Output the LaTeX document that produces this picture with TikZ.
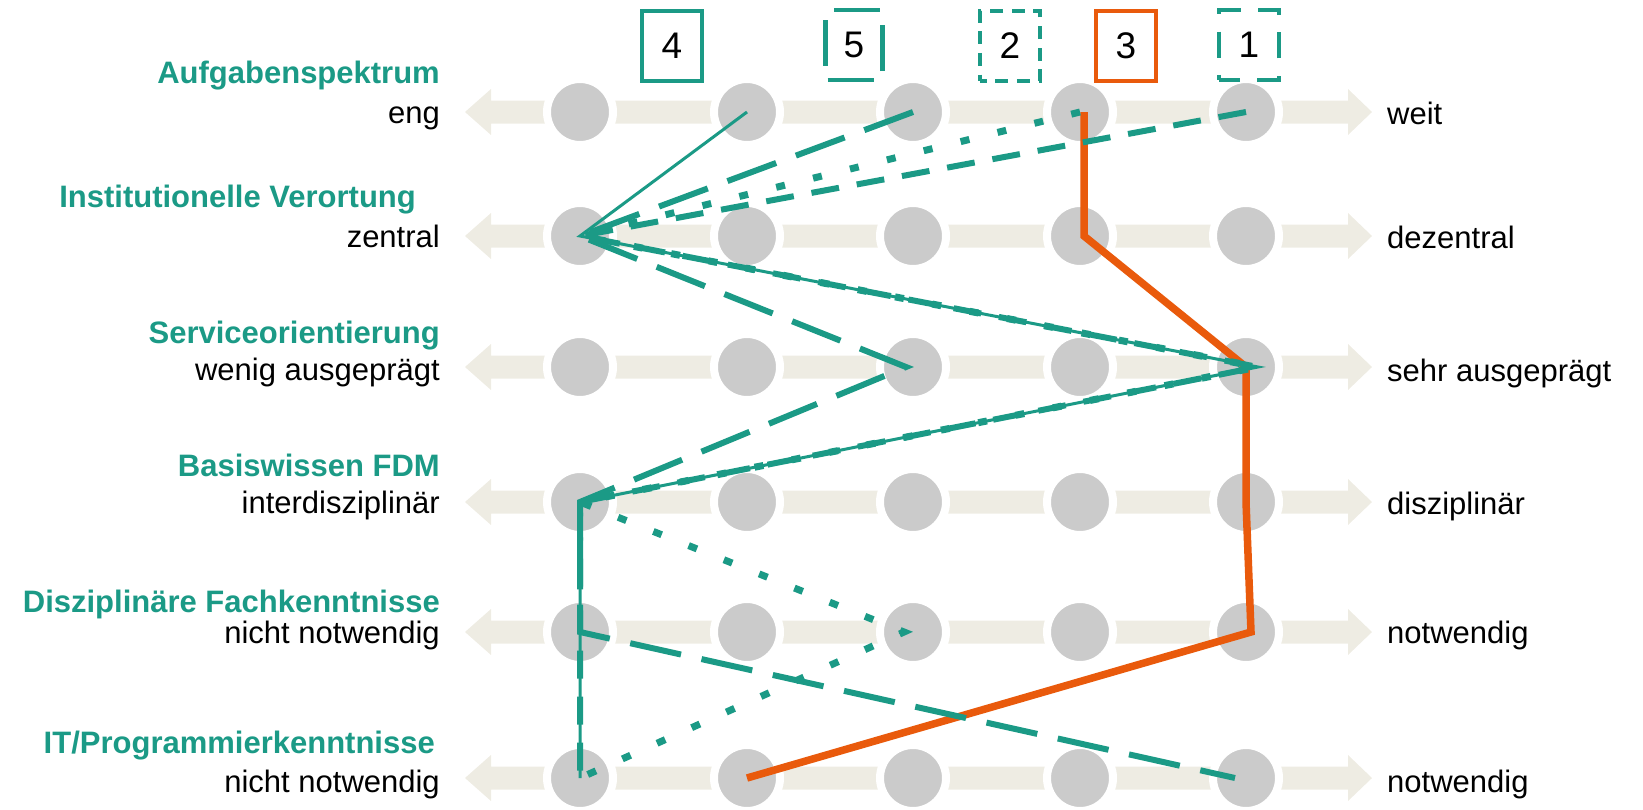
\documentclass[tikz,border=0pt]{standalone}
\usepackage{fontspec}
\setmainfont{Liberation Sans}

\definecolor{fdmteal}{HTML}{1B9A86}
\definecolor{fdmorange}{HTML}{E95A0C}
\definecolor{dotgray}{HTML}{CBCBCB}
\definecolor{bandbeige}{HTML}{EEECE3}

\begin{document}
\begin{tikzpicture}[%
        x=1pt, y=-1pt,
        mydot/.style={shape=circle, fill=dotgray, draw=white, line width=8pt,
            minimum size=66pt, inner sep=0pt},
        heading/.style={anchor=base east, inner sep=0pt, text=fdmteal,
            font=\fontsize{31}{37}\selectfont\bfseries},
        lowval/.style={anchor=base east, inner sep=0pt,
            font=\fontsize{31}{37}\selectfont},
        highval/.style={anchor=base west, inner sep=0pt,
            font=\fontsize{31}{37}\selectfont},
        legbox/.style={shape=rectangle, line width=4.5pt, minimum width=60pt,
            minimum height=70pt, inner sep=0pt, font=\fontsize{37}{44}\selectfont},
        prof1/.style={draw=fdmteal, line width=6pt, dash pattern=on 28pt off 18pt},
        prof2/.style={draw=fdmteal, line width=7pt, dash pattern=on 9pt off 29pt},
        prof3/.style={draw=fdmorange, line width=7.5pt},
        prof4/.style={draw=fdmteal, line width=3pt},
        prof5/.style={draw=fdmteal, line width=6pt, dash pattern=on 52pt off 21pt}
    ]
    \useasboundingbox (0,0) rectangle (1643,809);

    % scale bands
    \foreach \y in {112,236,367,502,632,778}
        \fill[bandbeige] (465,\y) -- (491,\y-23) -- (491,\y-11.5) -- (1348,\y-11.5)
            -- (1348,\y-23) -- (1372,\y) -- (1348,\y+23) -- (1348,\y+11.5)
            -- (491,\y+11.5) -- (491,\y+23) -- cycle;

    % points on the scales
    \foreach \r/\y in {1/112,2/236,3/367,4/502,5/632,6/778}
        \foreach \c/\x in {1/580,2/747,3/913,4/1080,5/1246}
            \node[mydot] (p\r\c) at (\x,\y) {};

    % labels
    \node[heading] (h1) at (440,83)  {Aufgabenspektrum};
    \node[lowval]  (l1) at (440,123) {eng};
    \node[highval] (r1) at (1387,124) {weit};

    \node[heading] (h2) at (416,207) {Institutionelle Verortung};
    \node[lowval]  (l2) at (440,247) {zentral};
    \node[highval] (r2) at (1387,248) {dezentral};

    \node[heading] (h3) at (440,343) {Serviceorientierung};
    \node[lowval]  (l3) at (440,380) {wenig ausgeprägt};
    \node[highval] (r3) at (1387,381) {sehr ausgeprägt};

    \node[heading] (h4) at (440,476) {Basiswissen FDM};
    \node[lowval]  (l4) at (440,513) {interdisziplinär};
    \node[highval] (r4) at (1387,514) {disziplinär};

    \node[heading] (h5) at (440,612) {Disziplinäre Fachkenntnisse};
    \node[lowval]  (l5) at (440,643) {nicht notwendig};
    \node[highval] (r5) at (1387,643) {notwendig};

    \node[heading] (h6) at (435,753) {IT/Programmierkenntnisse};
    \node[lowval]  (l6) at (440,792) {nicht notwendig};
    \node[highval] (r6) at (1387,792) {notwendig};

    % profiles
    \draw[prof3] ([xshift=4pt]p14.center) -- ([xshift=4pt]p24.center) -- (p35.center)
        -- (p45.center) -- ([xshift=5pt]p55.center) -- (p62.center);
    \draw[prof1] (p15.center) -- (p21.center) -- ([xshift=12pt]p35.center)
        -- (p41.center) -- (p51.center) -- (p61.center);
    \draw[prof2] (p14.center) -- (p21.center) -- ([xshift=12pt]p35.center)
        -- (p41.center) -- ([xshift=-9pt]p53.center) -- (p61.center);
    \draw[prof5] (p13.center) -- (p21.center) -- ([xshift=-7pt]p33.center)
        -- (p41.center) -- (p51.center) -- ([xshift=-11pt]p65.center);
    \draw[prof4] (p12.center) -- (p21.center) -- ([xshift=12pt]p35.center)
        -- (p41.center) -- (p51.center) -- (p61.center);

    % legend
    \node[legbox, draw=fdmteal] (b4) at (672,46) {4};
    \node[legbox, draw=fdmteal, minimum width=57pt,
        dash pattern=on 46pt off 18pt, dash phase=62pt] (b5) at (854,45) {5};
    \node[legbox, draw=fdmteal,
        dash pattern=on 13pt off 8.67pt, dash phase=6.5pt] (b2) at (1010,46) {2};
    \node[legbox, draw=fdmorange] (b3) at (1126,46) {3};
    \node[legbox, draw=fdmteal,
        dash pattern=on 26pt off 17.33pt, dash phase=5pt] (b1) at (1249,45) {1};
\end{tikzpicture}
\end{document}
